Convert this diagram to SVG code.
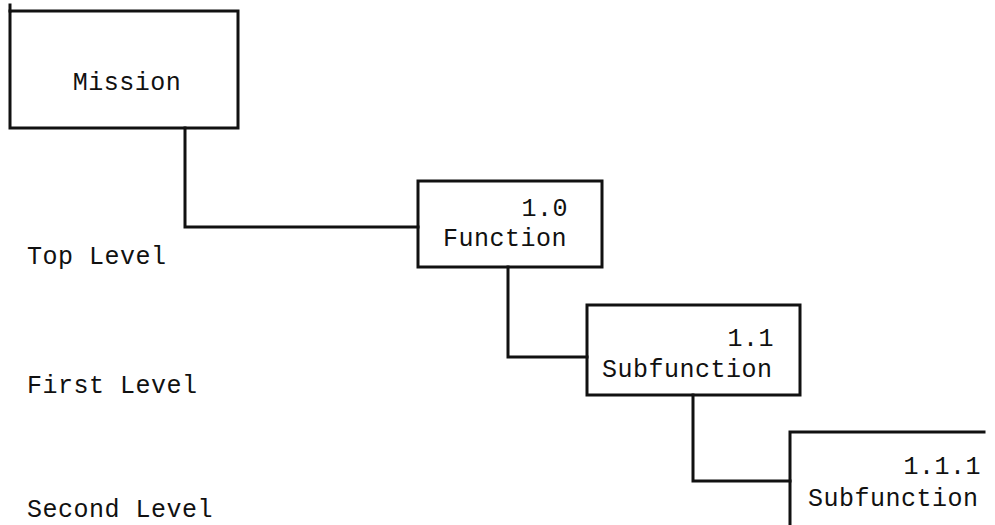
<svg xmlns="http://www.w3.org/2000/svg" width="995" height="525" viewBox="0 0 995 525">
<style>
.box{fill:none;stroke:#111;stroke-width:3;stroke-linecap:square}
.conn{fill:none;stroke:#111;stroke-width:3;stroke-linejoin:miter;stroke-linecap:square}
text{font-family:"Courier New","Liberation Mono",monospace;font-size:25px;letter-spacing:0.5px;fill:#111}
.end{text-anchor:end}
</style>
<rect width="995" height="525" fill="#fff"/>
<g id="connectors">
<polyline class="conn" points="185,128 185,227 418,227"/>
<polyline class="conn" points="508,267 508,357 587,357"/>
<polyline class="conn" points="693,395 693,481 790,481"/>
</g>
<g id="mission">
<rect class="box" x="10" y="11" width="228" height="117"/>
<line class="box" x1="10" y1="5" x2="10" y2="11"/>
<text x="127" y="90" text-anchor="middle">Mission</text>
</g>
<g id="function-1-0">
<rect class="box" x="418" y="181" width="184" height="86"/>
<text class="end" x="568" y="216">1.0</text>
<text x="443" y="246">Function</text>
</g>
<g id="subfunction-1-1">
<rect class="box" x="587" y="305" width="213" height="90"/>
<text class="end" x="774" y="346">1.1</text>
<text x="602" y="377">Subfunction</text>
</g>
<g id="subfunction-1-1-1">
<polyline class="box" points="790,525 790,432 984,432"/>
<text class="end" x="981" y="474">1.1.1</text>
<text x="808" y="506">Subfunction</text>
</g>
<g id="levels">
<text x="27" y="264">Top Level</text>
<text x="27" y="393">First Level</text>
<text x="27" y="517">Second Level</text>
</g>
</svg>
